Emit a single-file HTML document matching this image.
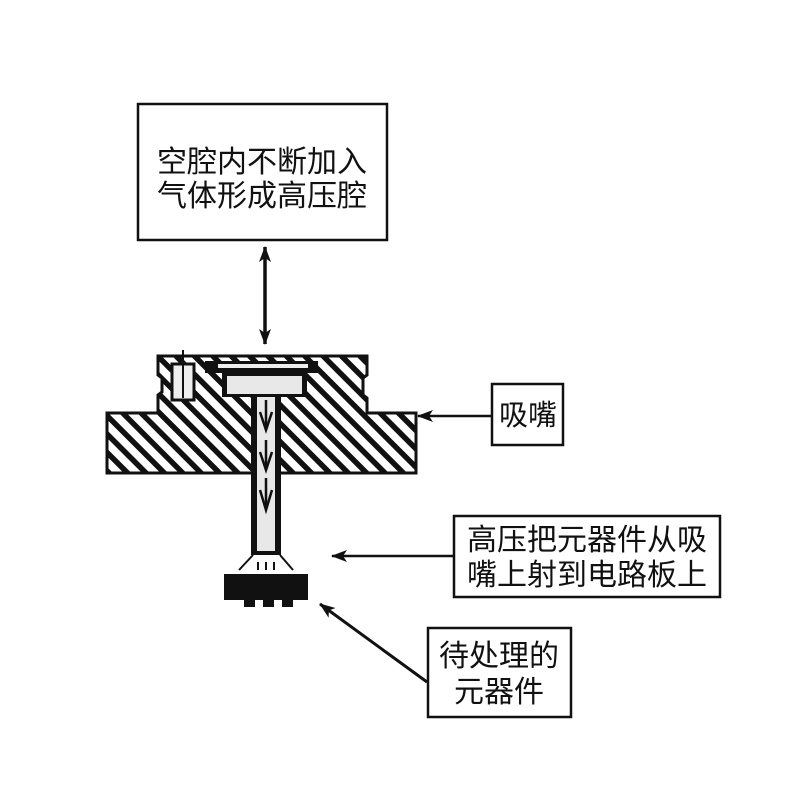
<!DOCTYPE html>
<html><head><meta charset="utf-8"><style>
html,body{margin:0;padding:0;background:#fff;}
svg{display:block}
text{font-family:"Liberation Sans","Noto Sans CJK SC",sans-serif;fill:#111;}
</style></head><body>
<svg width="800" height="800" viewBox="0 0 800 800" xmlns="http://www.w3.org/2000/svg">
<defs>
<pattern id="h" patternUnits="userSpaceOnUse" width="13" height="13" patternTransform="rotate(-45)">
<rect width="13" height="13" fill="#fff"/>
<rect x="0" y="0" width="5.5" height="13" fill="#111"/>
</pattern>
<marker id="a" markerWidth="16" markerHeight="12" refX="15" refY="6" orient="auto" markerUnits="userSpaceOnUse">
<path d="M0,0 L16,6 L0,12 L4,6 Z" fill="#111"/>
</marker>
<marker id="as" markerWidth="16" markerHeight="12" refX="1" refY="6" orient="auto" markerUnits="userSpaceOnUse">
<path d="M16,0 L0,6 L16,12 L12,6 Z" fill="#111"/>
</marker>
</defs>
<!-- boxes -->
<rect x="138" y="104" width="249" height="136" fill="#fff" stroke="#111" stroke-width="2.5"/>
<text x="262" y="172" font-size="30" text-anchor="middle">空腔内不断加入</text>
<text x="262" y="206" font-size="30" text-anchor="middle">气体形成高压腔</text>
<rect x="492" y="384" width="71" height="61" fill="#fff" stroke="#111" stroke-width="2.5"/>
<text x="528" y="425" font-size="29" text-anchor="middle">吸嘴</text>
<rect x="454" y="516" width="266" height="81" fill="#fff" stroke="#111" stroke-width="2.5"/>
<text x="587" y="550" font-size="30" text-anchor="middle">高压把元器件从吸</text>
<text x="587" y="585" font-size="30" text-anchor="middle">嘴上射到电路板上</text>
<rect x="428" y="628" width="143" height="89" fill="#fff" stroke="#111" stroke-width="2.5"/>
<text x="499" y="666" font-size="30" text-anchor="middle">待处理的</text>
<text x="499" y="702" font-size="30" text-anchor="middle">元器件</text>
<!-- arrows -->
<line x1="265" y1="247" x2="265" y2="344" stroke="#111" stroke-width="3.5" marker-start="url(#as)" marker-end="url(#a)"/>
<line x1="492" y1="416" x2="418" y2="416" stroke="#111" stroke-width="2.5" marker-end="url(#a)"/>
<line x1="454" y1="556" x2="332" y2="556" stroke="#111" stroke-width="2.5" marker-end="url(#a)"/>
<line x1="427" y1="682" x2="320" y2="604" stroke="#111" stroke-width="3" marker-end="url(#a)"/>
<!-- nozzle body -->
<path d="M158,356 L367,356 L367,375 L363,378 L363,395 L367,398 L367,413 L416,413 L416,473 L107,473 L107,413 L158,413 L158,395 L162,392 L162,378 L158,375 Z" fill="url(#h)" stroke="#111" stroke-width="3"/>
<rect x="172" y="364" width="22" height="36" fill="#eee" stroke="#111" stroke-width="3"/>
<line x1="183" y1="350" x2="183" y2="398" stroke="#111" stroke-width="2"/>
<rect x="205" y="361" width="113" height="12" fill="#111"/>
<rect x="218" y="364" width="90" height="4" fill="#eee"/>
<rect x="222" y="373" width="85" height="24" fill="#111"/>
<rect x="227" y="376" width="75" height="18" fill="#e8e8e8"/>
<!-- tube -->
<rect x="251" y="395" width="30" height="160" fill="#111"/>
<rect x="257" y="397" width="18" height="154" fill="#e8e8e8"/>
<g stroke="#111" stroke-width="2.5" fill="none">
<path d="M260,412 L266,430 L272,412"/><path d="M266,400 L266,430"/>
<path d="M260,452 L266,470 L272,452"/><path d="M266,440 L266,470"/>
<path d="M260,490 L266,510 L272,490"/><path d="M266,478 L266,510"/>
</g>
<g stroke="#111" stroke-width="2">
<line x1="253" y1="555" x2="239" y2="570"/><line x1="280" y1="555" x2="293" y2="570"/>
<line x1="258" y1="562" x2="258" y2="570"/><line x1="266" y1="562" x2="266" y2="570"/><line x1="274" y1="562" x2="274" y2="570"/>
</g>
<rect x="224" y="574" width="84" height="26" fill="#111"/>
<rect x="244" y="598" width="11" height="9" fill="#111"/>
<rect x="263" y="598" width="11" height="9" fill="#111"/>
<rect x="282" y="598" width="11" height="9" fill="#111"/>
</svg>
</body></html>
